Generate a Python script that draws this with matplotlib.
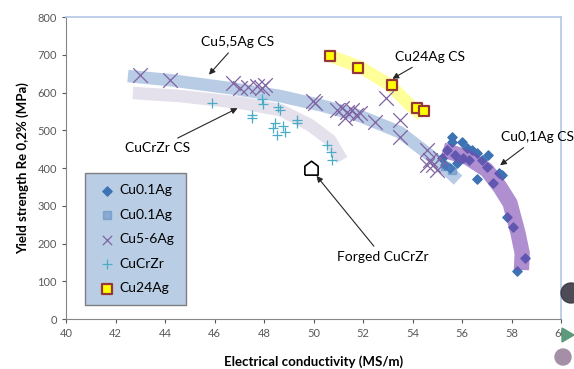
import matplotlib.pyplot as plt
from matplotlib.patches import Ellipse, Polygon

plt.rcParams['font.family'] = ['Lato', 'DejaVu Sans']

# Cu0.1Ag (diamonds)
cu01_x = [55.6, 55.6, 56.0, 56.2, 56.4, 56.6, 57.05, 56.8, 57.0, 57.5, 56.6, 57.25, 57.6,
          55.5, 55.2, 55.8, 55.4, 55.7, 56.05, 56.3, 55.3, 57.8, 58.06, 58.55, 58.22]
cu01_y = [482, 469, 469, 453, 448, 440, 434, 421, 403, 387, 370, 360, 381,
          400, 426, 413, 448, 434, 426, 421, 408, 270, 244, 162, 127]
# Cu0.1Ag (squares, mostly hidden)
cu01s_x = [55.3, 55.6]
cu01s_y = [405, 395]
# Cu5-6Ag (crosses)
cu56_x = [43.0, 44.2, 46.75, 47.03, 47.35, 47.72, 47.92, 48.04, 50.06, 49.98,
          50.95, 51.15, 51.35, 51.56, 51.72, 51.88, 51.27, 52.48, 52.93, 53.49, 53.49,
          54.59, 54.71, 54.83, 54.99, 54.59, 55.11]
cu56_y = [646, 633, 625, 612, 615, 617, 612, 620, 572, 578,
          554, 559, 548, 554, 540, 546, 532, 522, 585, 527, 482,
          448, 421, 408, 395, 408, 426]
# CuCrZr (plus)
crzr_x = [45.9, 47.92, 47.96, 47.52, 47.52, 48.57, 48.65, 48.44, 48.36, 48.77, 48.85,
          48.53, 49.33, 49.33, 50.55, 50.71, 50.75]
crzr_y = [572, 583, 570, 540, 532, 562, 554, 519, 506, 511, 495,
          487, 527, 519, 461, 442, 421]
# Cu24Ag
cu24_x = [50.67, 51.8, 53.17, 54.18, 54.46]
cu24_y = [697, 665, 620, 559, 551]
# Forged CuCrZr
forged_x = [49.9]
forged_y = [400]

# trend bands (hand drawn in the original)
band56_x = [42.5, 44.2, 46.63, 48.65, 50.26, 51.88, 53.49, 54.7, 55.5, 55.84]
band56_y = [644, 633, 612, 591, 567, 538, 495, 434, 389, 368]
bandcr_x = [42.7, 44.6, 47.03, 48.65, 49.86, 50.67, 51.15]
bandcr_y = [599, 591, 573, 554, 514, 474, 421]
band24_x = [50.59, 51.88, 53.09, 53.9, 54.38]
band24_y = [699, 668, 620, 567, 540]
band01_x = [55.23, 56.2, 57.0, 57.53, 57.94, 58.26, 58.43, 58.4]
band01_y = [448, 429, 395, 350, 307, 228, 175, 130]

house = [(-1, -1), (1, -1), (1, 0.35), (0, 1.1), (-1, 0.35), (-1, -1)]

fig = plt.figure(figsize=(5.74, 3.69), dpi=100)
ax = fig.add_axes([0.115, 0.1355, 0.8624, 0.818])

# bands
ax.plot(bandcr_x, bandcr_y, color='#e4e0ec', lw=9, solid_capstyle='butt', zorder=1)
ax.plot(band56_x, band56_y, color='#b8cce6', lw=9, solid_capstyle='butt', zorder=1)
ax.plot(band24_x, band24_y, color='#ffff99', lw=9, solid_capstyle='butt', zorder=1)
ax.plot(band01_x, band01_y, color='#7a45b0', lw=11, alpha=0.6, solid_capstyle='butt', zorder=3)

# series
ax.scatter(cu01_x, cu01_y, marker='D', s=22, color='#3d72b4', label='Cu0.1Ag', zorder=2)
ax.scatter(cu01s_x, cu01s_y, marker='s', s=40, color='#4f81bd', alpha=0.45, label='Cu0.1Ag', zorder=2)
ax.scatter(cu56_x, cu56_y, marker='x', s=110, color='#8064a2', linewidths=0.9, label='Cu5-6Ag', zorder=2)
ax.scatter(crzr_x, crzr_y, marker='+', s=60, color='#4bacc6', linewidths=0.9, label='CuCrZr', zorder=2)
ax.scatter(cu24_x, cu24_y, marker='s', s=55, color='#ffff00', edgecolors='#953735', linewidths=1.6,
           label='Cu24Ag', zorder=4)
ax.scatter(forged_x, forged_y, marker=house, s=110, color='white', edgecolors='black', linewidths=1.2, zorder=4)

# annotations
arrow = dict(arrowstyle='-|>', color='#262626', lw=0.8, mutation_scale=9)
ax.annotate('Cu5,5Ag CS', xy=(45.7, 642), xytext=(46.95, 734), ha='center', va='center',
            fontsize=10, arrowprops=arrow)
ax.annotate('CuCrZr CS', xy=(47.03, 562), xytext=(43.7, 453), ha='center', va='center',
            fontsize=10, arrowprops=arrow)
ax.annotate('Cu24Ag CS', xy=(53.09, 633), xytext=(54.7, 694), ha='center', va='center',
            fontsize=10, arrowprops=arrow)
ax.annotate('Cu0,1Ag CS', xy=(57.45, 403), xytext=(59.05, 482), ha='center', va='center',
            fontsize=10, arrowprops=arrow, annotation_clip=False)
ax.annotate('Forged CuCrZr', xy=(50.05, 385), xytext=(52.8, 164), ha='center', va='center',
            fontsize=10, arrowprops=arrow)

ax.set_xlim(40, 60)
ax.set_ylim(0, 800)
ax.set_xticks(range(40, 61, 2))
ax.set_yticks(range(0, 801, 100))
ax.tick_params(labelsize=8, colors='#595959', length=3, width=0.8)
for s in ['left', 'bottom']:
    ax.spines[s].set_color('#868686')
for s in ['top', 'right']:
    ax.spines[s].set_color('#b4c7e7')
    ax.spines[s].set_linewidth(1.2)

ax.set_xlabel('Electrical conductivity (MS/m)', fontsize=9.5, fontweight='bold', labelpad=12)
ax.set_ylabel('Yield strength Re 0,2% (MPa)', fontsize=9.5, fontweight='bold', labelpad=6)

leg = ax.legend(loc='upper left', bbox_to_anchor=(0.038, 0.483), fontsize=10, frameon=True,
                fancybox=False, labelspacing=0.9, handletextpad=0.1, borderpad=0.8,
                handlelength=1.6, borderaxespad=0)
leg.get_frame().set_facecolor('#b9cde5')
leg.get_frame().set_edgecolor('#7f7f7f')
leg.get_frame().set_alpha(1)
# smaller markers inside the legend, as in the original
leg_sizes = [22, 40, 45, 50, 55]
for h, sz in zip(leg.legend_handles, leg_sizes):
    h.set_sizes([sz])

# slide decorations at the right edge
fig.patches.append(Ellipse((571 / 574, 1 - 293 / 369), 20 / 574, 20 / 369, transform=fig.transFigure,
                           color='#3a3744', alpha=0.9))
fig.patches.append(Polygon([[562 / 574, 1 - 328 / 369], [574 / 574, 1 - 335 / 369], [562 / 574, 1 - 342 / 369]],
                           transform=fig.transFigure, color='#5b9a7a'))
fig.patches.append(Ellipse((563 / 574, 1 - 357 / 369), 16 / 574, 16 / 369, transform=fig.transFigure,
                           color='#a48fa6'))

fig.savefig('out.png', dpi=100)
